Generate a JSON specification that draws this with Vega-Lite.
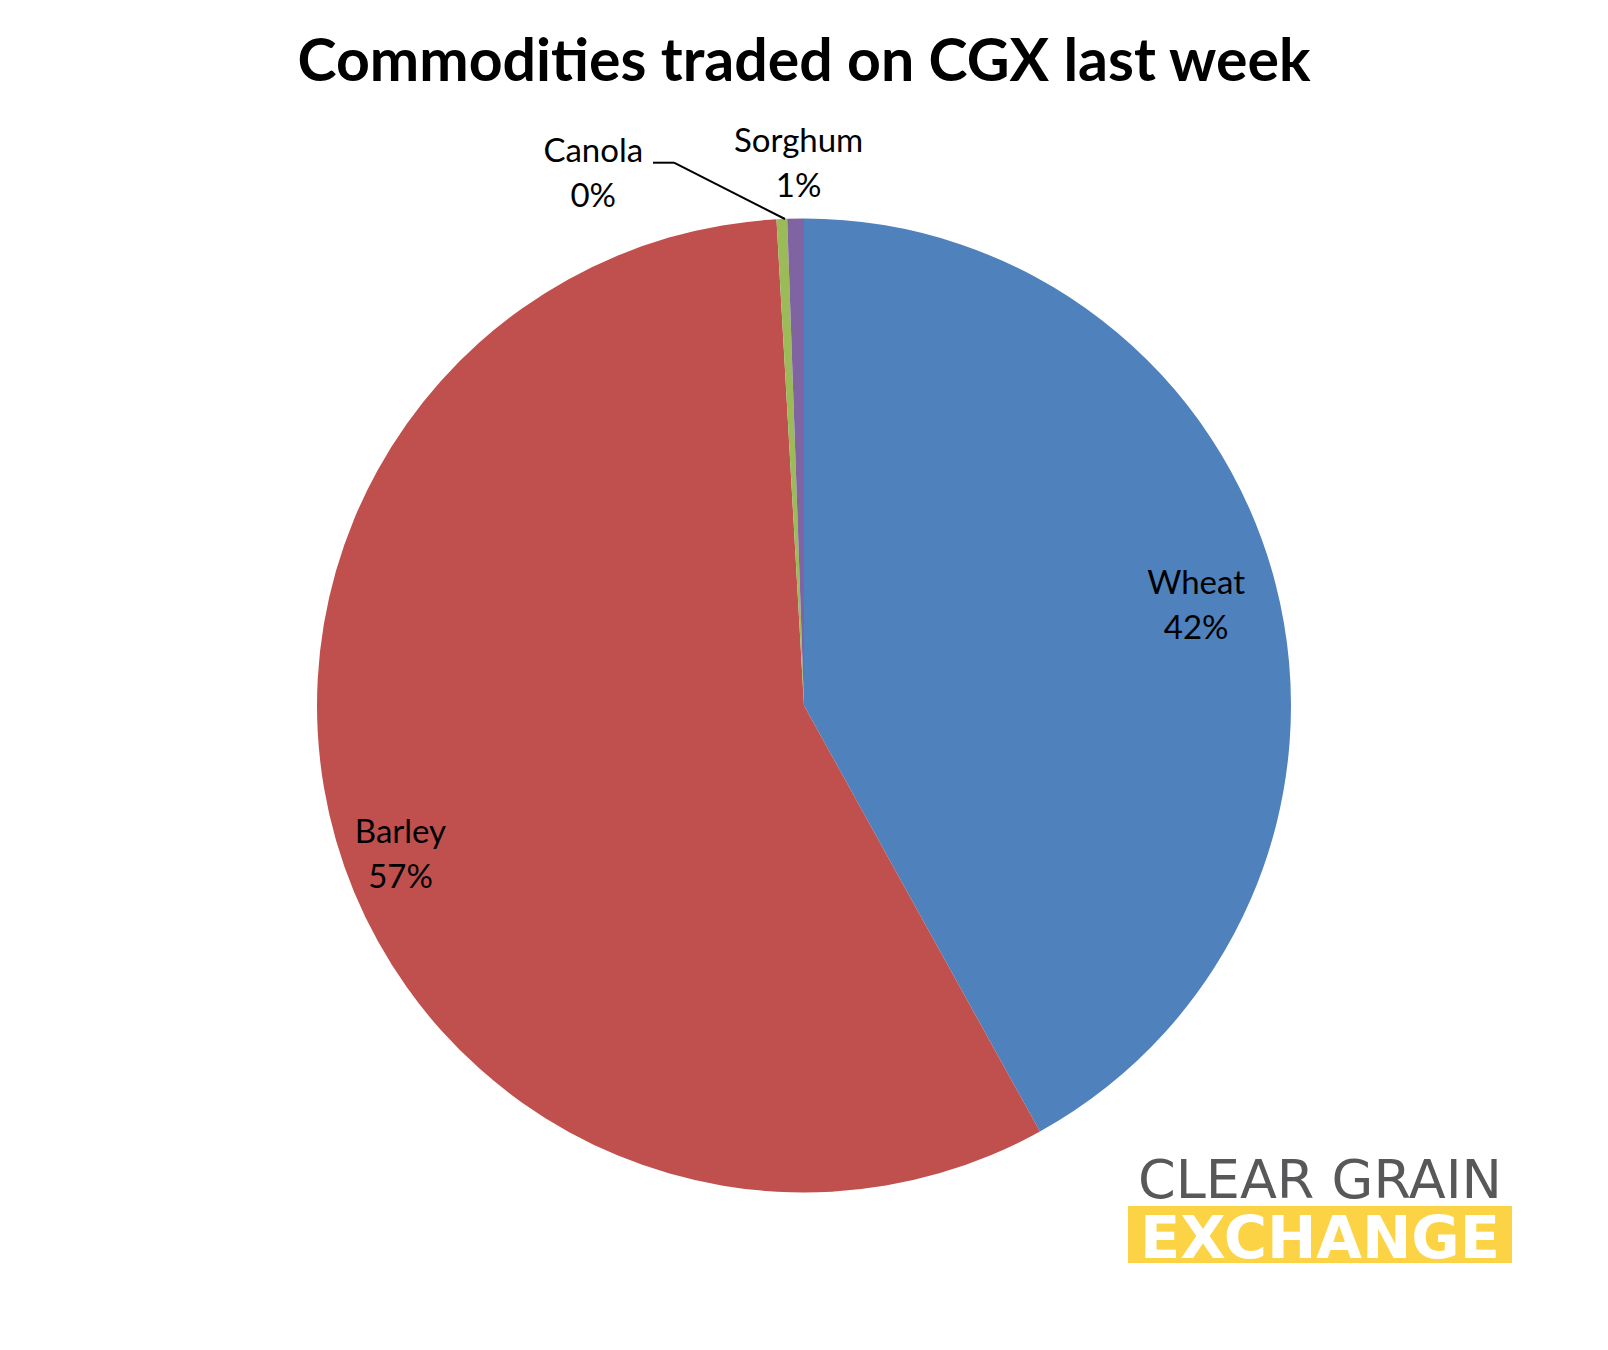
{
  "$schema": "https://vega.github.io/schema/vega-lite/v6.json",
  "width": 1608,
  "height": 1289,
  "autosize": {"type": "none"},
  "padding": {"left": 0, "right": 0, "top": 61, "bottom": 0},
  "background": "white",
  "config": {"view": {"stroke": null}},
  "title": {
    "text": "Commodities traded on CGX last week",
    "font": "Lato",
    "fontSize": 59,
    "fontWeight": "bold",
    "color": "#000000",
    "anchor": "middle",
    "baseline": "alphabetic",
    "offset": -79
  },
  "datasets": {
    "shares": [
      {"commodity": "Wheat", "share": 41.95, "order": 1},
      {"commodity": "Barley", "share": 57.15, "order": 2},
      {"commodity": "Canola", "share": 0.35, "order": 3},
      {"commodity": "Sorghum", "share": 0.55, "order": 4}
    ]
  },
  "layer": [
    {
      "data": {"name": "shares"},
      "mark": {"type": "arc", "outerRadius": 487},
      "encoding": {
        "theta": {"field": "share", "type": "quantitative", "stack": true},
        "order": {"field": "order", "type": "quantitative"},
        "color": {
          "field": "commodity",
          "type": "nominal",
          "scale": {
            "domain": ["Wheat", "Barley", "Canola", "Sorghum"],
            "range": ["#4F81BD", "#C0504D", "#9BBB59", "#8064A2"]
          },
          "legend": null
        }
      }
    },
    {
      "data": {"name": "shares"},
      "transform": [{"calculate": "[datum.commodity, round(datum.share) + '%']", "as": "label"}],
      "mark": {"type": "text", "radius": 405, "dy": -20, "font": "Lato", "fontSize": 33, "lineHeight": 45, "baseline": "middle", "align": "center", "color": "#000000"},
      "encoding": {
        "theta": {"field": "share", "type": "quantitative", "stack": true},
        "order": {"field": "order", "type": "quantitative"},
        "text": {"condition": {"test": "datum.commodity === 'Wheat'", "field": "label"}, "value": ""}
      }
    },
    {
      "data": {"name": "shares"},
      "transform": [{"calculate": "[datum.commodity, round(datum.share) + '%']", "as": "label"}],
      "mark": {"type": "text", "radius": 420, "dy": 11, "font": "Lato", "fontSize": 33, "lineHeight": 45, "baseline": "middle", "align": "center", "color": "#000000"},
      "encoding": {
        "theta": {"field": "share", "type": "quantitative", "stack": true},
        "order": {"field": "order", "type": "quantitative"},
        "text": {"condition": {"test": "datum.commodity === 'Barley'", "field": "label"}, "value": ""}
      }
    },
    {
      "data": {"name": "shares"},
      "transform": [{"calculate": "[datum.commodity, round(datum.share) + '%']", "as": "label"}],
      "mark": {"type": "text", "radius": 543, "dx": 4, "dy": -21, "font": "Lato", "fontSize": 33, "lineHeight": 45, "baseline": "middle", "align": "center", "color": "#000000"},
      "encoding": {
        "theta": {"field": "share", "type": "quantitative", "stack": true},
        "order": {"field": "order", "type": "quantitative"},
        "text": {"condition": {"test": "datum.commodity === 'Sorghum'", "field": "label"}, "value": ""}
      }
    },
    {
      "data": {"name": "shares"},
      "transform": [{"calculate": "[datum.commodity, round(datum.share) + '%']", "as": "label"}],
      "mark": {"type": "text", "radius": 543, "dx": -186, "dy": -11, "font": "Lato", "fontSize": 33, "lineHeight": 45, "baseline": "middle", "align": "center", "color": "#000000"},
      "encoding": {
        "theta": {"field": "share", "type": "quantitative", "stack": true},
        "order": {"field": "order", "type": "quantitative"},
        "text": {"condition": {"test": "datum.commodity === 'Canola'", "field": "label"}, "value": ""}
      }
    },
    {
      "data": {"values": [{"k": 1}]},
      "mark": {"type": "rule", "color": "#000000", "strokeWidth": 2},
      "encoding": {
        "x": {"value": 653}, "x2": {"value": 674},
        "y": {"value": 101.7}, "y2": {"value": 101.7}
      }
    },
    {
      "data": {"values": [{"k": 1}]},
      "mark": {"type": "rule", "color": "#000000", "strokeWidth": 2},
      "encoding": {
        "x": {"value": 674}, "x2": {"value": 785},
        "y": {"value": 101.7}, "y2": {"value": 158}
      }
    },
    {
      "data": {"values": [{"k": 1}]},
      "mark": {"type": "rect", "color": "#FCD344"},
      "encoding": {
        "x": {"value": 1128}, "x2": {"value": 1512},
        "y": {"value": 1145}, "y2": {"value": 1202}
      }
    },
    {
      "data": {"values": [{"t": "CLEAR GRAIN"}]},
      "mark": {"type": "text", "font": "DejaVu Sans", "fontSize": 54, "color": "#58585A", "align": "center", "baseline": "alphabetic"},
      "encoding": {"text": {"field": "t"}, "x": {"value": 1320}, "y": {"value": 1137}}
    },
    {
      "data": {"values": [{"t": "EXCHANGE"}]},
      "mark": {"type": "text", "font": "DejaVu Sans", "fontSize": 59, "fontWeight": "bold", "color": "#FFFFFF", "align": "center", "baseline": "alphabetic"},
      "encoding": {"text": {"field": "t"}, "x": {"value": 1320}, "y": {"value": 1197}}
    }
  ]
}
